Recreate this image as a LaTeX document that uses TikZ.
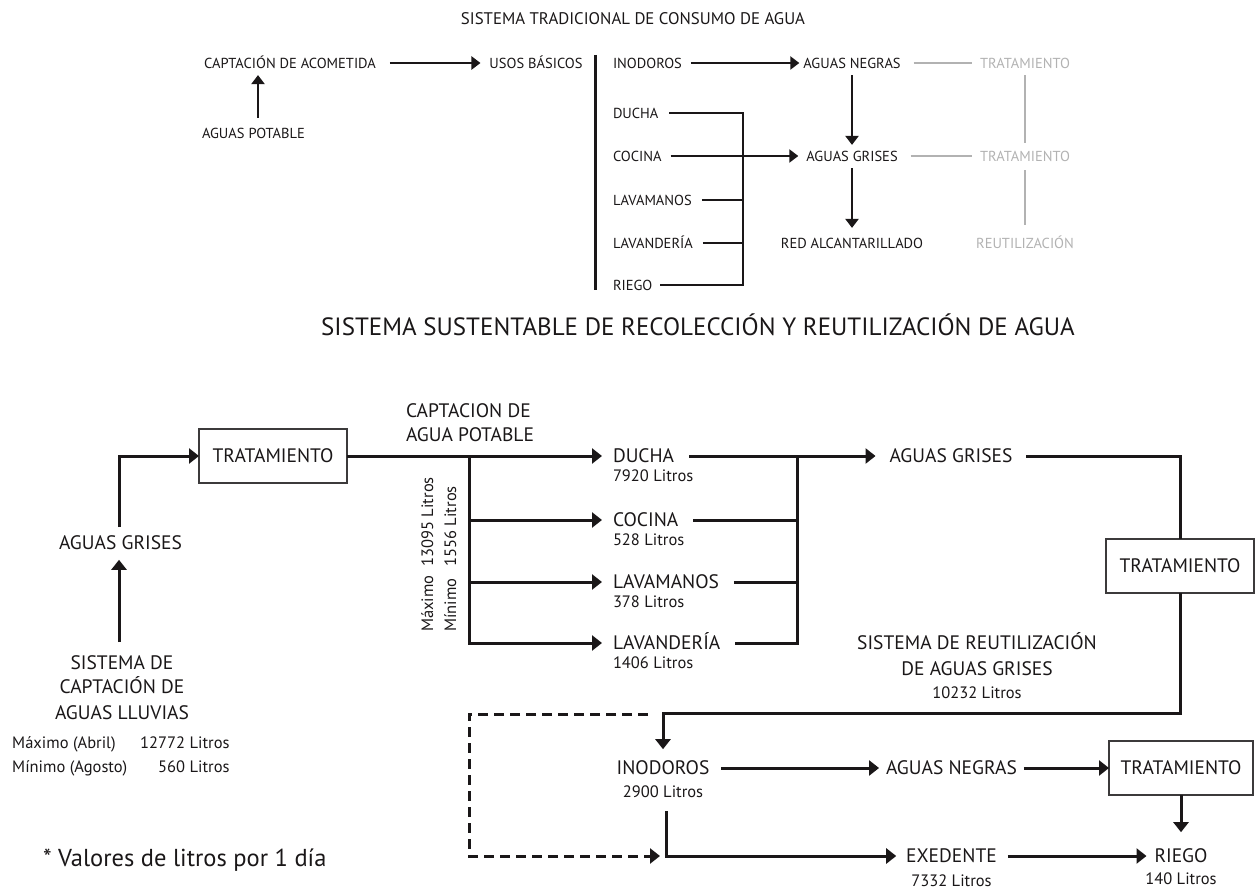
\documentclass[tikz,border=0pt]{standalone}
\usepackage{fontspec}
\setmainfont{PT Sans}
\usepackage{xcolor}
\usepackage{tikz}
\usetikzlibrary{positioning}
\usetikzlibrary{calc,arrows.meta}
\definecolor{tinta}{HTML}{1A1718}
\definecolor{claro}{HTML}{B2B2B2}
\newcommand{\fchico}{\fontsize{14.5}{17}\selectfont}
\newcommand{\fgrande}{\fontsize{19.5}{25}\selectfont}
\newcommand{\flitros}{\fontsize{16.5}{24}\selectfont}
\tikzset{
  etiq/.style = {inner sep=0pt, outer sep=0pt, text=tinta, text depth=0pt},% texto base
  e_chico/.style = {etiq, font=\fchico, text height=10.2pt},% sistema tradicional
  e_gris/.style = {e_chico, text=claro},% parte que no se usa
  e_grande/.style = {etiq, font=\fgrande, text height=13.6pt},% sistema sustentable
  e_litros/.style = {etiq, font=\flitros, text height=11.5pt},% cantidades
  caja/.style = {e_grande, draw=tinta!85, line width=1.2pt,
    minimum width=148pt, minimum height=54pt},
  linea/.style = {draw=tinta, line width=3pt},
  flecha/.style = {linea, -{Triangle[length=10pt,width=15pt]}},
  flecha_c/.style = {linea, line width=2.8pt, -{Triangle[length=9pt,width=13pt]}},% arriba
  guion/.style = {flecha, dash pattern=on 10pt off 6pt},
  linea_gris/.style = {draw=claro, line width=2.8pt}
}

\begin{document}
\begin{tikzpicture}[x=1pt,y=-1pt]
\useasboundingbox (0,0) rectangle (1256,893);

% sistema tradicional
\node[etiq, font=\fontsize{16.8}{20}\selectfont, text height=11.8pt] (titulo1) at (633,19)
  {SISTEMA TRADICIONAL DE CONSUMO DE AGUA};
\node[e_chico] (acometida) at (290,63) {CAPTACIÓN DE ACOMETIDA};
\node[e_chico, anchor=west] (potable) at (202,133) {AGUAS POTABLE};
\node[e_chico] (usos) at (536,63) {USOS BÁSICOS};
\node[e_chico, anchor=west] (inodoros) at (613,63) {INODOROS};
\node[e_chico, anchor=west] (ducha) at (613,113) {DUCHA};
\node[e_chico, anchor=west] (cocina) at (613,156) {COCINA};
\node[e_chico, anchor=west] (lavamanos) at (613,200) {LAVAMANOS};
\node[e_chico, anchor=west] (lavanderia) at (613,243) {LAVANDERÍA};
\node[e_chico, anchor=west] (riego) at (613,285) {RIEGO};
\node[e_chico] (negras) at (852,63) {AGUAS NEGRAS};
\node[e_chico] (grises) at (852,156) {AGUAS GRISES};
\node[e_chico] (red) at (852,243) {RED ALCANTARILLADO};
\node[e_gris] (trat1) at (1025,63) {TRATAMIENTO};
\node[e_gris] (trat2) at (1025,156) {TRATAMIENTO};
\node[e_gris] (reutil) at (1025,243) {REUTILIZACIÓN};
\coordinate (pot) at (258,0);
\coordinate (llave) at (743,0);

\draw[flecha_c, shorten <=14pt, shorten >=9pt] (acometida) -- (usos);
\draw[flecha_c, shorten <=10pt, shorten >=7pt] (potable.north -| pot) -- (acometida.south -| pot);
\draw[linea] (595,55) -- (595,290);
\draw[flecha_c, shorten <=9pt, shorten >=4pt] (inodoros) -- (negras);
\draw[linea, line width=2.8pt, shorten <=11pt, shorten >=8pt] (ducha.east) -- (ducha.east -| llave)
  -- (riego.east -| llave) -- (riego.east);
\draw[linea, line width=2.8pt, shorten <=10pt] (lavamanos.east) -- (lavamanos.east -| llave);
\draw[linea, line width=2.8pt, shorten <=10pt] (lavanderia.east) -- (lavanderia.east -| llave);
\draw[flecha_c, shorten <=9pt, shorten >=8pt] (cocina) -- (grises);
\draw[flecha_c, shorten <=7pt, shorten >=6pt] (negras) -- (grises);
\draw[flecha_c, shorten <=7pt, shorten >=10pt] (grises) -- (red);
\draw[linea_gris, shorten <=13pt, shorten >=8pt] (negras) -- (trat1);
\draw[linea_gris, shorten <=13pt, shorten >=8pt] (grises) -- (trat2);
\draw[linea_gris, shorten <=7pt, shorten >=8pt] (trat1) -- (trat2);
\draw[linea_gris, shorten <=9pt, shorten >=13pt] (trat2) -- (reutil);

% sistema sustentable
\node[etiq, font=\fontsize{25}{30}\selectfont, text height=17.5pt] (titulo2) at (698,327)
  {SISTEMA SUSTENTABLE DE RECOLECCIÓN Y REUTILIZACIÓN DE AGUA};
\node[caja] (tratA) at (273,456) {TRATAMIENTO};
\node[e_grande] (grisesA) at (120.5,543) {AGUAS GRISES};
\node[e_grande] (lluvia1) at (122,663) {SISTEMA DE};
\node[e_grande, below=10.4pt of lluvia1] (lluvia2) {CAPTACIÓN DE};
\node[e_grande, below=12.4pt of lluvia2] (lluvia3) {AGUAS LLUVIAS};
\node[anchor=west, inner sep=0pt, text=tinta, font=\flitros] (maxmin) at (12,756)
  {\begin{tabular}{@{}l@{\hspace{13pt}}r@{}}Máximo (Abril) & 12772 Litros\\ Mínimo (Agosto) & 560 Litros\end{tabular}};
\coordinate (cX) at (119,0);

\draw[flecha, shorten <=14pt, shorten >=10pt] (lluvia1.north -| cX) -- (grisesA.south -| cX);
\draw[flecha, shorten <=9pt] (grisesA.north -| cX) |- (tratA.west);

\node[e_grande, anchor=west] (captag1) at (406,411) {CAPTACION DE};
\node[e_grande, below right=10.4pt and 0pt of captag1.south west] (captag2) {AGUA POTABLE};
\node[inner sep=0pt, text=tinta, font=\fontsize{16.5}{23}\selectfont, rotate=90, anchor=west] (maximo) at (440,632)
  {\begin{tabular}{@{}l@{\hspace{9pt}}l@{}}Máximo & 13095 Litros\\ Mínimo & 1556 Litros\end{tabular}};

\node[e_grande, anchor=west] (ducha2) at (613,456) {DUCHA};
\node[e_litros, below right=7.5pt and 0pt of ducha2.south west] (litros1) {7920 Litros};
\node[e_grande, anchor=west] (cocina2) at (613,520) {COCINA};
\node[e_litros, below right=7.5pt and 0pt of cocina2.south west] (litros2) {528 Litros};
\node[e_grande, anchor=west] (lavamanos2) at (613,582) {LAVAMANOS};
\node[e_litros, below right=7.5pt and 0pt of lavamanos2.south west] (litros3) {378 Litros};
\node[e_grande, anchor=west] (lavanderia2) at (613,643) {LAVANDERÍA};
\node[e_litros, below right=7.5pt and 0pt of lavanderia2.south west] (litros4) {1406 Litros};
\coordinate (j1) at (469,456);
\coordinate (j2) at (797,456);

\draw[flecha, shorten >=11pt] (tratA.east) -- (ducha2.west);
\draw[flecha, shorten >=11pt] (j1) |- (cocina2.west);
\draw[flecha, shorten >=11pt] (j1) |- (lavamanos2.west);
\draw[flecha, shorten >=11pt] (j1) |- (lavanderia2.west);
\draw[linea, shorten <=15pt] (ducha2.east) -- (ducha2.east -| j2);
\draw[linea, shorten <=15pt] (cocina2.east) -- (cocina2.east -| j2);
\draw[linea, shorten <=15pt] (lavamanos2.east) -- (lavamanos2.east -| j2);
\draw[linea, shorten <=15pt] (lavanderia2.east) -| (j2);

\node[e_grande] (grisesB) at (951,456) {AGUAS GRISES};
\node[caja] (tratB) at (1180,566) {TRATAMIENTO};
\draw[flecha, shorten >=14pt] (j2) -- (grisesB.west);
\draw[linea, shorten <=14pt] (grisesB.east) -| (tratB.north);

\node[e_grande] (reuso1) at (977,643) {SISTEMA DE REUTILIZACIÓN};
\node[e_grande, below=12.4pt of reuso1] (reuso2) {DE AGUAS GRISES};
\node[e_litros, below=11pt of reuso2] (litros5) {10232 Litros};

\node[e_grande] (inodoros2) at (663,768) {INODOROS};
\node[e_litros, below=11pt of inodoros2] (litros6) {2900 Litros};
\node[e_grande] (negras2) at (951.5,768) {AGUAS NEGRAS};
\node[caja, minimum width=144pt] (tratC) at (1181,768) {TRATAMIENTO};
\node[e_grande] (exedente) at (951.5,856) {EXEDENTE};
\node[e_litros, below=12pt of exedente] (litros7) {7332 Litros};
\node[e_grande] (riego2) at (1181,856) {RIEGO};
\node[e_litros, below=10pt of riego2] (litros8) {140 Litros};
\coordinate (k1) at (663,713);
\coordinate (k2) at (666,856);
\coordinate (dA) at (648,714);
\coordinate (dB) at (469,856);

\draw[flecha, shorten >=12pt] (tratB.south) |- (k1) -- (inodoros2.north);
\draw[flecha, shorten <=12pt, shorten >=7pt] (inodoros2) -- (negras2);
\draw[flecha, shorten <=7pt] (negras2) -- (tratC);
\draw[flecha, shorten >=17pt] (tratC) -- (riego2);
\draw[flecha, shorten <=14pt, shorten >=10pt] (litros6.south -| k2) -- (k2) -- (exedente.west);
\draw[flecha, shorten <=11pt, shorten >=8pt] (exedente) -- (riego2);
\draw[guion, shorten >=6pt] (dA) -| (dB) -- (k2);

\node[etiq, anchor=west, font=\fontsize{24.5}{29}\selectfont, text height=17.2pt] (nota) at (43,858)
  {* Valores de litros por 1 día};
\end{tikzpicture}
\end{document}
